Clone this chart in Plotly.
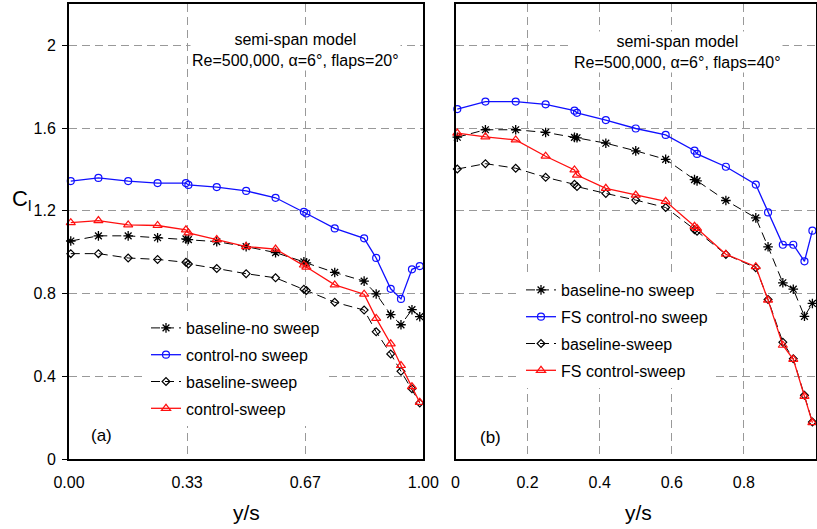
import plotly.graph_objects as go

# ---------------- data ----------------
span_x = [0.005, 0.083, 0.167, 0.25, 0.33, 0.337, 0.417, 0.5, 0.583, 0.663,
          0.67, 0.75, 0.833, 0.867, 0.908, 0.937, 0.968, 0.99]

# panel (a): flaps = 20 deg
a_base_nosweep = [1.054, 1.079, 1.079, 1.070, 1.064, 1.061, 1.051, 1.027, 0.998, 0.953,
                  0.948, 0.902, 0.860, 0.798, 0.698, 0.649, 0.722, 0.688]
a_ctrl_nosweep = [1.344, 1.359, 1.344, 1.334, 1.334, 1.325, 1.315, 1.296, 1.263, 1.195,
                  1.187, 1.115, 1.067, 0.972, 0.823, 0.774, 0.917, 0.933]
a_base_sweep = [0.993, 0.993, 0.972, 0.965, 0.951, 0.943, 0.921, 0.896, 0.876, 0.821,
                0.815, 0.758, 0.720, 0.615, 0.508, 0.424, 0.340, 0.271]
a_ctrl_sweep = [1.143, 1.153, 1.132, 1.129, 1.108, 1.093, 1.061, 1.027, 1.015, 0.938,
                0.928, 0.842, 0.797, 0.680, 0.557, 0.452, 0.350, 0.274]

# panel (b): flaps = 40 deg
b_base_nosweep = [1.556, 1.592, 1.592, 1.579, 1.555, 1.553, 1.527, 1.490, 1.449, 1.351,
                  1.345, 1.250, 1.166, 1.026, 0.852, 0.821, 0.690, 0.752]
b_ctrl_nosweep = [1.692, 1.728, 1.728, 1.715, 1.684, 1.674, 1.639, 1.598, 1.567, 1.491,
                  1.475, 1.413, 1.327, 1.192, 1.036, 1.036, 0.956, 1.104]
b_base_sweep = [1.402, 1.428, 1.406, 1.362, 1.328, 1.317, 1.284, 1.252, 1.216, 1.109,
                1.101, 0.989, 0.925, 0.771, 0.565, 0.485, 0.308, 0.179]
b_ctrl_sweep = [1.576, 1.558, 1.543, 1.464, 1.398, 1.373, 1.309, 1.276, 1.246, 1.125,
                1.115, 0.990, 0.930, 0.768, 0.550, 0.482, 0.303, 0.176]

names_a = ["baseline-no sweep", "control-no sweep", "baseline-sweep", "control-sweep"]
names_b = ["baseline-no sweep", "FS control-no sweep", "baseline-sweep", "FS control-sweep"]

a_xtickvals = [0, 1/3, 2/3, 1]
a_xticktext = ["0.00", "0.33", "0.67", "1.00"]
b_xtickvals = [0, 0.2, 0.4, 0.6, 0.8, 1.0]
b_xticktext = ["0", "0.2", "0.4", "0.6", "0.8", "1"]
ytickvals = [0, 0.4, 0.8, 1.2, 1.6, 2.0]
yticktext = ["0", "0.4", "0.8", "1.2", "1.6", "2"]

# ---------------- layout geometry ----------------
W, H = 817, 529
ML, MR, MT, MB = 69, 1, 4, 70
PW, PH = W - ML - MR, H - MT - MB

def px2x(px):
    return (px - ML) / PW

def px2y(py):
    return (H - MB - py) / PH

FONT = "Liberation Sans, Arial, Helvetica, sans-serif"

styles = [
    dict(line=dict(color="black", width=1, dash="9px,5px"),
         marker=dict(symbol="asterisk-open", size=8, color="black", line=dict(width=1.3, color="black"))),
    dict(line=dict(color="#1010ff", width=1.3),
         marker=dict(symbol="circle-open", size=7, color="#1010ff", line=dict(width=1.2, color="#1010ff"))),
    dict(line=dict(color="black", width=1, dash="9px,5px"),
         marker=dict(symbol="diamond-open", size=6, color="black", line=dict(width=1.2, color="black"))),
    dict(line=dict(color="#ff1010", width=1.3),
         marker=dict(symbol="triangle-up-open", size=8, color="#ff1010", line=dict(width=1.2, color="#ff1010"))),
]

fig = go.Figure()

for i, (ys, nm) in enumerate(zip([a_base_nosweep, a_ctrl_nosweep, a_base_sweep, a_ctrl_sweep], names_a)):
    fig.add_trace(go.Scatter(x=span_x, y=ys, mode="lines+markers", name=nm,
                             xaxis="x", yaxis="y", legend="legend",
                             legendgroup="a%d" % i, cliponaxis=False, **styles[i]))

for i, (ys, nm) in enumerate(zip([b_base_nosweep, b_ctrl_nosweep, b_base_sweep, b_ctrl_sweep], names_b)):
    fig.add_trace(go.Scatter(x=span_x, y=ys, mode="lines+markers", name=nm,
                             xaxis="x2", yaxis="y2", legend="legend2",
                             legendgroup="b%d" % i, cliponaxis=False, **styles[i]))

grid = dict(showgrid=True, gridcolor="#999999", griddash="8px,5px", gridwidth=1,
            showline=True, linecolor="black", linewidth=2, mirror=True, zeroline=False,
            automargin=False)

common_x = dict(range=[0, 1], tickfont=dict(size=16, color="black", family=FONT),
                ticks="", ticklabelstandoff=8, **grid)
common_y = dict(range=[0, 2.2], tickvals=ytickvals, ticktext=yticktext, **grid)

fig.update_layout(
    template="none",
    width=W, height=H,
    margin=dict(l=ML, r=MR, t=MT, b=MB, autoexpand=False),
    paper_bgcolor="white", plot_bgcolor="white",
    font=dict(family=FONT, color="black"),
    showlegend=True,
    xaxis=dict(domain=[0, px2x(423.3)], tickvals=a_xtickvals, ticktext=a_xticktext,
               anchor="y", **common_x),
    yaxis=dict(domain=[0, 1], anchor="x", ticks="outside", ticklen=5, tickcolor="black",
               tickfont=dict(size=16, color="black", family=FONT), ticklabelstandoff=3,
               **common_y),
    xaxis2=dict(domain=[px2x(455.5), 1], tickvals=b_xtickvals, ticktext=b_xticktext,
                anchor="y2", **common_x),
    yaxis2=dict(domain=[0, 1], anchor="x2", showticklabels=False, **common_y),
    legend=dict(x=px2x(146), y=px2y(311), xanchor="left", yanchor="top",
                bgcolor="white", font=dict(size=16, family=FONT, color="black"),
                tracegroupgap=3, itemwidth=30),
    legend2=dict(x=px2x(521), y=px2y(273), xanchor="left", yanchor="top",
                 bgcolor="white", font=dict(size=16, family=FONT, color="black"),
                 tracegroupgap=3, itemwidth=30),
)

ann_font = dict(size=16, family=FONT, color="black")
C = dict(showarrow=False, xanchor="center", yanchor="middle")
annotations = [
    dict(text="semi-span model<br>Re=500,000, α=6°, flaps=20°", xref="x", yref="y",
         x=(295 - 69) / 354.3, y=(458.5 - 50.5) / 206.3,
         bgcolor="white", font=ann_font, align="center", **C),
    dict(text="semi-span model<br>Re=500,000, α=6°, flaps=40°", xref="x2", yref="y2",
         x=(677.5 - 455.5) / 361, y=(458.5 - 52.5) / 206.3,
         bgcolor="white", font=ann_font, align="center", **C),
    dict(text="(a)", xref="x", yref="y", x=(101.2 - 69) / 354.3, y=(458.5 - 435.2) / 206.3,
         font=dict(size=17, family=FONT, color="black"), **C),
    dict(text="(b)", xref="x2", yref="y2", x=(490.7 - 455.5) / 361, y=(458.5 - 437) / 206.3,
         font=dict(size=17, family=FONT, color="black"), **C),
    dict(text="y/s", xref="paper", yref="paper", x=px2x(246.5), y=px2y(512),
         font=dict(size=21, family=FONT, color="black"), **C),
    dict(text="y/s", xref="paper", yref="paper", x=px2x(638.5), y=px2y(512),
         font=dict(size=21, family=FONT, color="black"), **C),
    dict(text="C<sub>l</sub>", xref="paper", yref="paper", x=px2x(21), y=px2y(200),
         font=dict(size=22, family=FONT, color="black"), **C),
]
fig.update_layout(annotations=annotations)

fig.write_html(
    "out.html",
    config={"displayModeBar": False},
    post_script="document.body.style.margin='0px';document.body.style.overflow='hidden';",
)
